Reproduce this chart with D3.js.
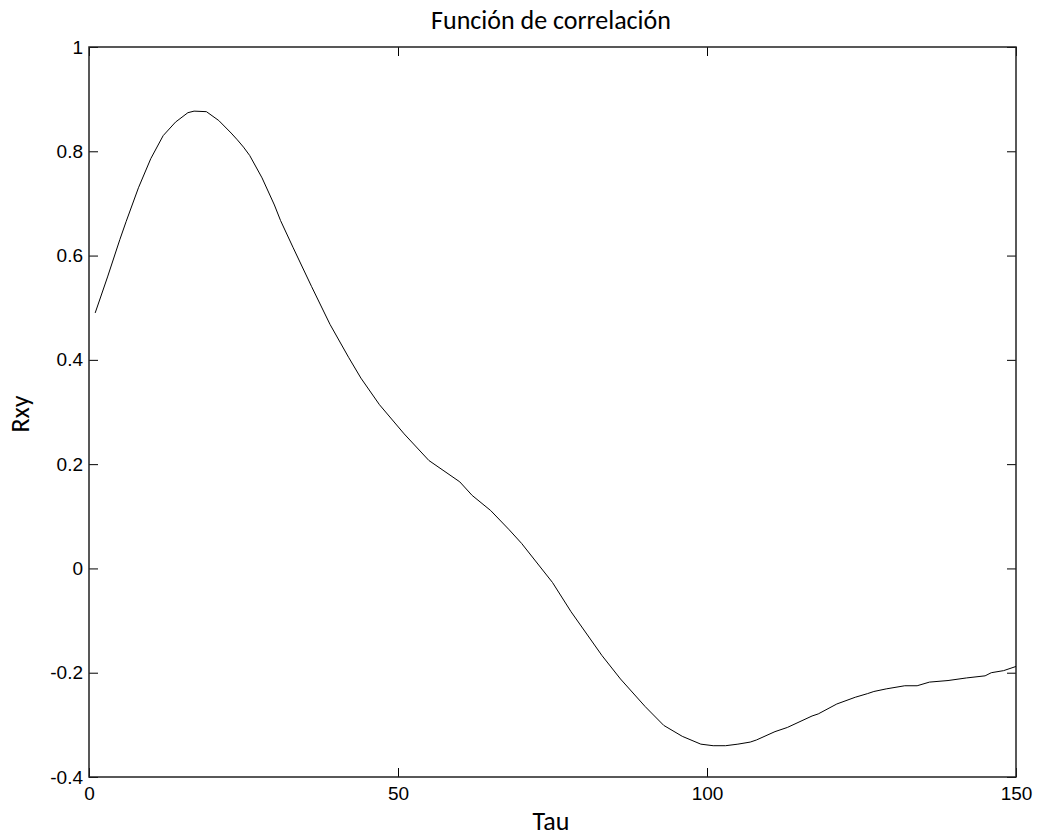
<!DOCTYPE html>
<html>
<head>
<meta charset="utf-8">
<script src="https://cdn.jsdelivr.net/npm/d3@7"></script>
<style>
  html, body { margin: 0; padding: 0; background: #fff; }
  svg { display: block; }
  .tick text { font-family: "Liberation Sans", Arial, sans-serif; font-size: 19px; fill: #000; }
  .lbl { font-family: "Carlito", "Lato", "Open Sans", sans-serif; font-size: 26px; fill: #000; }
</style>
</head>
<body>
<svg id="chart" width="1037" height="838"></svg>
<script>
// Cross-correlation samples: lag (Tau) and correlation value (Rxy)
const tau = [1, 3, 5, 6, 8, 10, 12, 14, 16, 17, 19, 21, 23, 24, 25, 26, 28, 30, 31, 33, 36, 39,
             42, 44, 47, 51, 55, 60, 62, 65, 68, 70, 75, 78, 83, 86, 90, 93, 96, 99, 101, 103,
             105, 107, 108, 111, 113, 117, 118, 121, 124, 126, 127, 129, 132, 134, 136, 139, 142, 145, 146, 148, 150];
const rxy = [0.490, 0.559, 0.631, 0.665, 0.730, 0.786, 0.830, 0.856, 0.874, 0.877, 0.876, 0.859, 0.835, 0.822, 0.808, 0.792, 0.749, 0.697, 0.667, 0.616, 0.541, 0.468,
             0.405, 0.365, 0.314, 0.258, 0.207, 0.166, 0.140, 0.111, 0.074, 0.048, -0.027, -0.083, -0.167, -0.212, -0.265, -0.301, -0.322, -0.337, -0.340, -0.340,
             -0.337, -0.333, -0.329, -0.313, -0.305, -0.283, -0.279, -0.260, -0.247, -0.240, -0.236, -0.231, -0.225, -0.225, -0.218, -0.215, -0.210, -0.206, -0.200, -0.196, -0.188];

const xTicks = [0, 50, 100, 150];
const yTicks = [-0.4, -0.2, 0, 0.2, 0.4, 0.6, 0.8, 1];

const titleText = "Función de correlación";
const xLabel = "Tau";
const yLabel = "Rxy";

(function draw() {
  const svg = d3.select("#chart");
  const mLeft = 89, mRight = 1016, mTop = 47, mBottom = 777;

  const x = d3.scaleLinear().domain([0, 150]).range([mLeft, mRight]);
  const y = d3.scaleLinear().domain([-0.4, 1]).range([mBottom, mTop]);

  const fmt = d => (d === 0 ? "0" : String(+d.toFixed(1)));
  const tickLen = 9;

  // bottom axis: inward ticks with labels
  const gx = svg.append("g").attr("transform", `translate(0,${mBottom})`)
    .call(d3.axisBottom(x).tickValues(xTicks).tickSize(-tickLen).tickPadding(10).tickFormat(fmt));
  // left axis
  const gy = svg.append("g").attr("transform", `translate(${mLeft},0)`)
    .call(d3.axisLeft(y).tickValues(yTicks).tickSize(-tickLen).tickPadding(6).tickFormat(fmt));
  // mirrored ticks on top and right
  const gt = svg.append("g").attr("transform", `translate(0,${mTop})`)
    .call(d3.axisTop(x).tickValues(xTicks).tickSize(-tickLen).tickFormat(""));
  const gr = svg.append("g").attr("transform", `translate(${mRight},0)`)
    .call(d3.axisRight(y).tickValues(yTicks).tickSize(-tickLen).tickFormat(""));

  [gx, gy, gt, gr].forEach(g => {
    g.select(".domain").remove();
    g.selectAll(".tick line").attr("stroke", "#000").attr("stroke-width", 1);
  });

  // frame
  svg.append("rect")
    .attr("x", mLeft).attr("y", mTop)
    .attr("width", mRight - mLeft).attr("height", mBottom - mTop)
    .attr("fill", "none").attr("stroke", "#222").attr("stroke-width", 1.5);

  // correlation curve
  const line = d3.line().x((d, i) => x(tau[i])).y(d => y(d));
  svg.append("path")
    .datum(rxy)
    .attr("d", line)
    .attr("fill", "none")
    .attr("stroke", "#000")
    .attr("stroke-width", 1);

  // title and axis labels
  const cx = 551;
  svg.append("text").attr("class", "lbl")
    .attr("x", cx).attr("y", 29)
    .attr("text-anchor", "middle").text(titleText);
  svg.append("text").attr("class", "lbl")
    .attr("x", cx).attr("y", 830)
    .attr("text-anchor", "middle").text(xLabel);
  svg.append("text").attr("class", "lbl")
    .attr("transform", `translate(29,414) rotate(-90)`)
    .attr("text-anchor", "middle").text(yLabel);
})();
</script>
</body>
</html>
